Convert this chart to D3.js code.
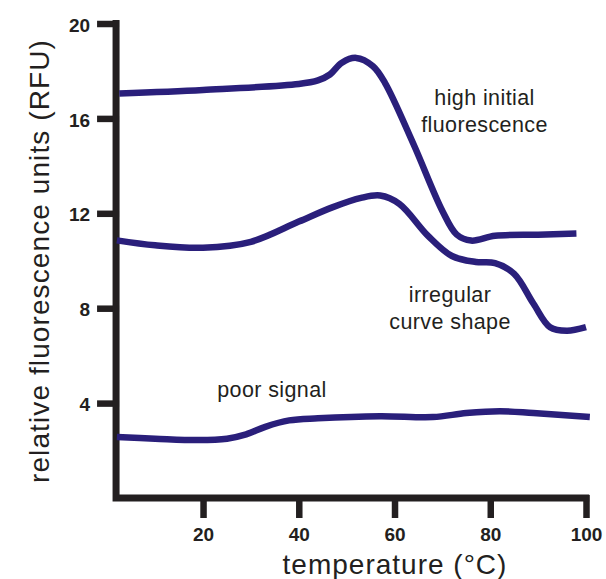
<!DOCTYPE html>
<html>
<head>
<meta charset="utf-8">
<script src="https://cdn.jsdelivr.net/npm/d3@7"></script>
<style>
  body { margin: 0; background: #fff; }
  svg { display: block; font-family: "Liberation Sans", Arial, Helvetica, sans-serif; }
</style>
</head>
<body>
<svg id="chart" width="606" height="579"></svg>
<script>
// values
const xTicks = [20, 40, 60, 80, 100];
const yTicks = [4, 8, 12, 16, 20];

const highTemp = [2.5, 20, 40, 44, 46.5, 49, 52, 55.5, 58, 64, 70, 73, 76, 81, 90, 98];
const highRfu  = [17.05, 17.2, 17.45, 17.6, 17.85, 18.35, 18.55, 18.2, 17.5, 14.9, 12.1, 11.1, 10.85, 11.05, 11.1, 11.15];

const irregTemp = [2, 10, 20, 30, 40, 47, 53, 57, 61, 67, 72, 77, 81, 85, 89, 92.5, 96, 100];
const irregRfu  = [10.86, 10.65, 10.55, 10.8, 11.65, 12.25, 12.65, 12.75, 12.4, 11.05, 10.2, 9.95, 9.9, 9.45, 8.2, 7.2, 7.05, 7.2];

const poorTemp = [2, 10, 19, 25, 29, 33, 38, 44, 57, 68, 75, 82, 89, 100.8];
const poorRfu  = [2.57, 2.5, 2.44, 2.5, 2.68, 3.0, 3.27, 3.36, 3.45, 3.41, 3.58, 3.66, 3.58, 3.41];

const seriesList = [
  { temp: highTemp, rfu: highRfu },
  { temp: irregTemp, rfu: irregRfu },
  { temp: poorTemp, rfu: poorRfu }
];

const notes = [
  { lines: ["high initial", "fluorescence"], x: 78.8, y: 16.55 },
  { lines: ["irregular", "curve shape"], x: 71.6, y: 8.25 },
  { lines: ["poor signal"], x: 34.4, y: 4.25 }
];

const svg = d3.select('#chart');
const ink = '#231f20';
const lineColor = '#2a1f7b';

const x = d3.scaleLinear().domain([0, 100]).range([107.3, 586]);
const y = d3.scaleLinear().domain([0, 20]).range([498, 23.5]);
const xStart = 1.83;

// axes (ticks from d3, thick hand-drawn domain lines)
const xAxis = svg.append('g')
  .attr('transform', `translate(0,${y(0)})`)
  .call(d3.axisBottom(x).tickValues(xTicks).tickSize(20).tickPadding(10).tickSizeOuter(0));
const yAxis = svg.append('g')
  .attr('transform', `translate(${x(xStart)},0)`)
  .call(d3.axisLeft(y).tickValues(yTicks).tickSize(19).tickPadding(7).tickSizeOuter(0));

[xAxis, yAxis].forEach(a => {
  a.select('.domain').remove();
  a.selectAll('.tick line').attr('stroke', ink).attr('stroke-width', 6.5);
  a.selectAll('.tick text')
    .attr('fill', ink)
    .attr('font-size', 19)
    .attr('font-weight', 'bold')
    .attr('font-family', '"Liberation Sans", Arial, sans-serif');
});
xAxis.selectAll('.tick line').attr('y1', -3);
yAxis.selectAll('.tick line').attr('x1', 3);
yAxis.selectAll('.tick text').attr('dy', '0.4em');

svg.append('path')
  .attr('d', `M${x(xStart)},${y(20) - 3.5} V${y(0)} H${x(100) + 3.2}`)
  .attr('fill', 'none')
  .attr('stroke', ink)
  .attr('stroke-width', 7)
  .attr('stroke-linejoin', 'miter');

// curves
const line = d3.line()
  .x(d => x(d[0]))
  .y(d => y(d[1]))
  .curve(d3.curveCatmullRom.alpha(0.5));

svg.append('g').selectAll('path')
  .data(seriesList)
  .join('path')
  .attr('d', s => line(s.temp.map((t, i) => [t, s.rfu[i]])))
  .attr('fill', 'none')
  .attr('stroke', lineColor)
  .attr('stroke-width', 6.5)
  .attr('stroke-linecap', 'butt')
  .attr('stroke-linejoin', 'round');

// annotations
notes.forEach(n => {
  const t = svg.append('text')
    .attr('x', x(n.x))
    .attr('y', y(n.y))
    .attr('text-anchor', 'middle')
    .attr('font-size', 21.5)
    .attr('letter-spacing', 0.4)
    .attr('fill', ink);
  n.lines.forEach((l, i) => {
    t.append('tspan').attr('x', x(n.x)).attr('dy', i === 0 ? 0 : 27).text(l);
  });
});

// axis titles
svg.append('text')
  .attr('x', 395)
  .attr('y', 574)
  .attr('text-anchor', 'middle')
  .attr('font-size', 28)
  .attr('letter-spacing', 1)
  .attr('fill', ink)
  .text('temperature (°C)');

svg.append('text')
  .attr('transform', 'translate(49,261) rotate(-90)')
  .attr('text-anchor', 'middle')
  .attr('font-size', 28)
  .attr('letter-spacing', 1.1)
  .attr('fill', ink)
  .text('relative fluorescence units (RFU)');
</script>
</body>
</html>
